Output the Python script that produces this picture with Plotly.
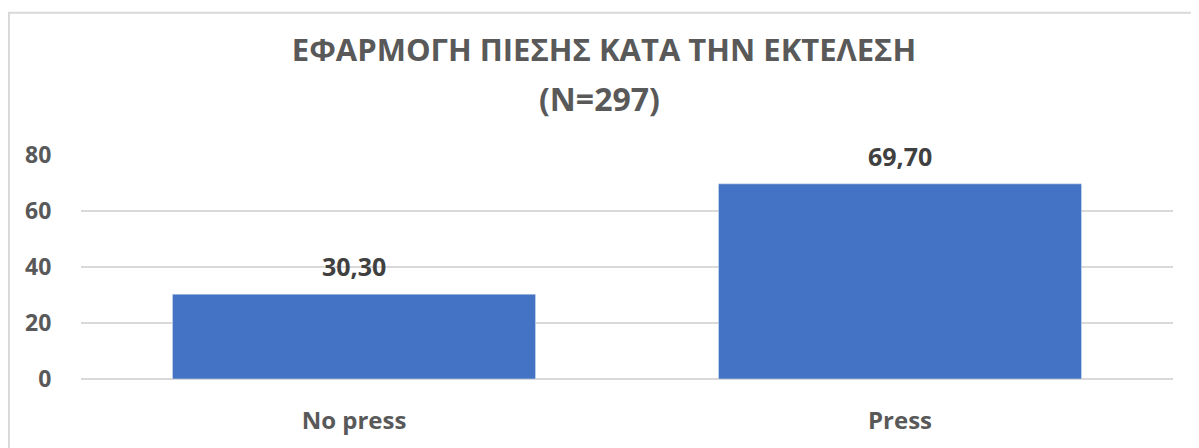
import plotly.graph_objects as go

## Data
categories = ["No press", "Press"]
percentages = [30.30, 69.70]
value_labels = ["30,30", "69,70"]
y_ticks = [0, 20, 40, 60, 80]

## Figure / plot area sizes in pixels (page has an 8px body margin)
W, H = 1191, 440
L, R, T, B = 73, 26, 147, 63
PH = H - T - B
PW = W - L - R

fig = go.Figure()
fig.add_trace(go.Bar(x=categories,
                     y=percentages,
                     width=0.665,
                     marker_color='#4472C4'))

## value labels above the bars
for cat, val, lab in zip(categories, percentages, value_labels):
    fig.add_annotation(x=cat, y=val, text=lab, showarrow=False,
                       yanchor='bottom', yshift=9,
                       font=dict(family='Open Sans', size=25, color='#404040', weight='bold'))

## second title line
fig.add_annotation(xref='paper', yref='paper', x=0.5 + (599 - 8 - L - PW / 2) / PW,
                   y=(H - B - 89) / PH, yanchor='middle', showarrow=False,
                   text='(N=297)',
                   font=dict(family='Open Sans', size=32, color='#595959', weight='bold'))

## light chart border (like the Excel chart area)
fig.add_shape(type='rect', xref='paper', yref='paper',
              x0=(1 - L) / PW, x1=1.2, y0=-0.5, y1=(H - B - 1) / PH,
              line=dict(color='#d9d9d9', width=2), fillcolor='rgba(0,0,0,0)', layer='below')

fig.update_layout(title=dict(text='ΕΦΑΡΜΟΓΗ ΠΙΕΣΗΣ ΚΑΤΑ ΤΗΝ ΕΚΤΕΛΕΣΗ',
                             x=(604 - 8) / W, xanchor='center', y=1 - 42 / H, yanchor='middle',
                             font=dict(family='Open Sans', size=31, color='#595959', weight='bold')),
                  width=W, height=H,
                  margin=dict(l=L, r=R, t=T, b=B),
                  plot_bgcolor='white', paper_bgcolor='white',
                  showlegend=False,
                  font=dict(family='Open Sans'))

fig.update_xaxes(showgrid=False, showline=False, ticks='outside', ticklen=20, tickcolor='white',
                 tickfont=dict(family='Open Sans', size=24, color='#595959', weight='bold'))
fig.update_yaxes(range=[0, 80], tickvals=y_ticks, showgrid=True, gridcolor='#d9d9d9', gridwidth=1.5,
                 zeroline=True, zerolinecolor='#d9d9d9', zerolinewidth=1.5,
                 ticks='outside', ticklen=24, tickcolor='white',
                 tickfont=dict(family='Open Sans', size=23, color='#595959', weight='bold'))

fig.write_html("out.html")
